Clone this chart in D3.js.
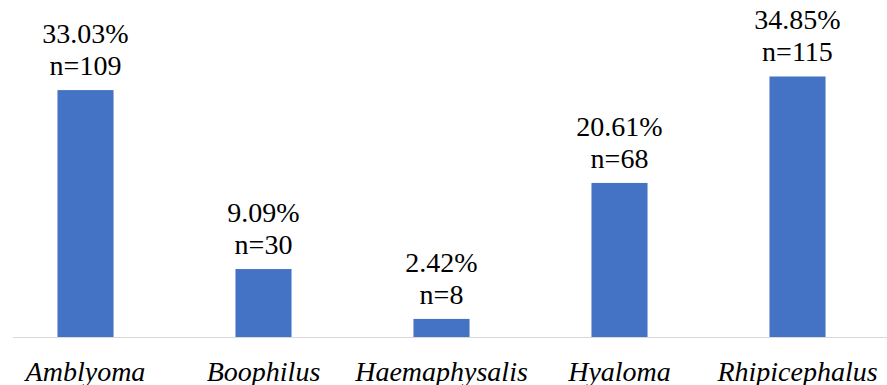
<!DOCTYPE html>
<html>
<head>
<meta charset="UTF-8">
<script src="https://d3js.org/d3.v7.min.js"></script>
<style>
  body { margin: 0; background: #fff; }
  svg text, svg tspan { font-family: "Liberation Serif", Tinos, "Times New Roman" !important; }
</style>
</head>
<body>
<svg id="chart" width="887" height="385"></svg>
<script>
  // data
  const genera = ["Amblyoma", "Boophilus", "Haemaphysalis", "Hyaloma", "Rhipicephalus"];
  const percents = [33.03, 9.09, 2.42, 20.61, 34.85];
  const counts = [109, 30, 8, 68, 115];

  const width = 887, height = 385;
  const baseY = 337;

  const svg = d3.select("#chart");

  const x = d3.scaleBand()
    .domain(genera)
    .range([-3.5, 886.5])
    .paddingInner(0.685)
    .paddingOuter(0.3425);

  const y = d3.scaleLinear()
    .domain([0, 40])
    .range([baseY, baseY - 299]);

  const data = genera.map((g, i) => ({ g: g, p: percents[i], n: counts[i] }));

  // bars
  svg.selectAll(".bar")
    .data(data)
    .enter()
    .append("rect")
    .attr("class", "bar")
    .attr("x", d => x(d.g))
    .attr("y", d => y(d.p))
    .attr("width", x.bandwidth())
    .attr("height", d => y(0) - y(d.p))
    .attr("fill", "#4472C4");

  // baseline
  svg.append("line")
    .attr("x1", 13).attr("x2", width)
    .attr("y1", baseY + 0.5).attr("y2", baseY + 0.5)
    .attr("stroke", "#d9d9d9")
    .attr("stroke-width", 1);

  // category labels
  svg.selectAll(".cat")
    .data(data)
    .enter()
    .append("text")
    .attr("class", "cat")
    .attr("font-family", "Liberation Serif")
    .attr("font-size", 28)
    .attr("font-style", "italic")
    .attr("x", d => x(d.g) + x.bandwidth() / 2)
    .attr("y", 381)
    .attr("text-anchor", "middle")
    .text(d => d.g);

  // value labels, one text per line
  svg.selectAll(".pct")
    .data(data)
    .enter()
    .append("text")
    .attr("class", "pct")
    .attr("font-family", "Liberation Serif")
    .attr("font-size", 28)
    .attr("text-anchor", "middle")
    .attr("x", d => x(d.g) + x.bandwidth() / 2)
    .attr("y", d => y(d.p) - 47)
    .text(d => d.p.toFixed(2) + "%");

  svg.selectAll(".cnt")
    .data(data)
    .enter()
    .append("text")
    .attr("class", "cnt")
    .attr("font-family", "Liberation Serif")
    .attr("font-size", 28)
    .attr("text-anchor", "middle")
    .attr("x", d => x(d.g) + x.bandwidth() / 2)
    .attr("y", d => y(d.p) - 15)
    .text(d => "n=" + d.n);
</script>
</body>
</html>
